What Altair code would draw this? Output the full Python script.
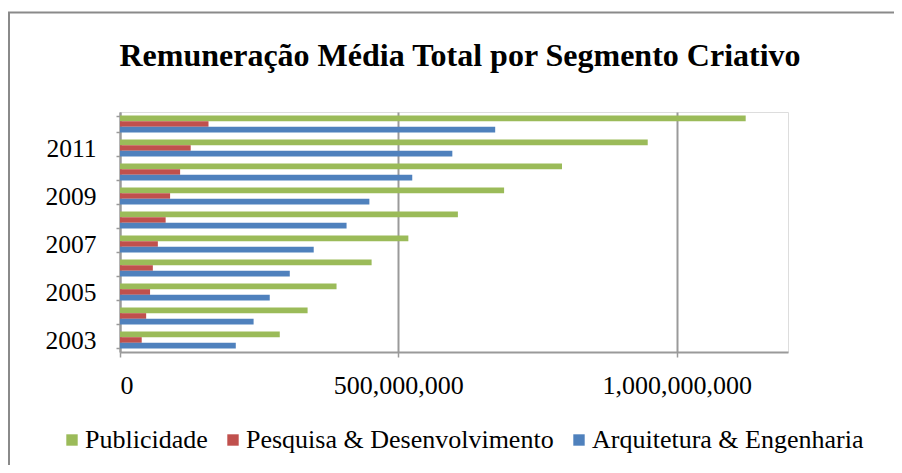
import altair as alt
import pandas as pd

years = [str(y) for y in range(2003, 2013)]
series = ["Publicidade", "Pesquisa & Desenvolvimento", "Arquitetura & Engenharia"]
colors = ["#9BBB59", "#C0504D", "#4F81BD"]

publicidade = [287e6, 337e6, 389e6, 452e6, 518e6, 607e6, 690e6, 794e6, 948e6, 1124e6]
pesquisa = [39e6, 47e6, 54e6, 59e6, 68e6, 82e6, 90e6, 108e6, 127e6, 159e6]
arquitetura = [208e6, 240e6, 269e6, 305e6, 348e6, 407e6, 448e6, 525e6, 597e6, 674e6]

x_ticks = [0, 500000000, 1000000000]

rows = []
for name, vals in zip(series, [publicidade, pesquisa, arquitetura]):
    for y, v in zip(years, vals):
        rows.append({"Ano": y, "Segmento": name, "Valor": v})
df = pd.DataFrame(rows)

FONT = "Liberation Serif"

bars = alt.Chart(df).mark_bar(stroke=None).encode(
    x=alt.X("Valor:Q",
            scale=alt.Scale(domain=[0, 1.2e9], nice=False, zero=True),
            axis=alt.Axis(values=x_ticks, format=",d", title=None,
                          grid=True, gridColor="#9a9a9a", gridWidth=2,
                          domainColor="#9a9a9a", domainWidth=2,
                          tickColor="#9a9a9a", tickWidth=1.5, tickSize=5,
                          labelFont=FONT, labelFontSize=26, labelColor="#000",
                          labelPadding=15)),
    y=alt.Y("Ano:N", sort="descending",
            scale=alt.Scale(paddingInner=0.3, paddingOuter=0.15),
            axis=alt.Axis(title=None, tickBand="extent",
                          labelExpr="(toNumber(datum.value) - 2003) % 2 == 0 ? datum.label : ''",
                          domainColor="#9a9a9a", domainWidth=2,
                          tickColor="#9a9a9a", tickWidth=1.5, tickSize=4,
                          labelFont=FONT, labelFontSize=25.5, labelColor="#000",
                          labelPadding=20)),
    yOffset=alt.YOffset("Segmento:N", sort=series,
                        scale=alt.Scale(paddingInner=0.0)),
    color=alt.Color("Segmento:N", sort=series,
                    scale=alt.Scale(domain=series, range=colors),
                    legend=alt.Legend(orient="none", direction="horizontal",
                                      legendX=-61, legendY=315, title=None,
                                      symbolType="square", symbolSize=130,
                                      symbolStrokeWidth=0, labelLimit=500,
                                      labelFont=FONT, labelFontSize=26,
                                      labelColor="#000", labelOffset=0,
                                      columnPadding=12)),
)

frame_df = pd.DataFrame({"a": [0]})
left_border = alt.Chart(frame_df).mark_rule(color="#8a8a8a", strokeWidth=2).encode(
    x=alt.value(-111), y=alt.value(-99.5), y2=alt.value(420))
top_border = alt.Chart(frame_df).mark_rule(color="#8a8a8a", strokeWidth=2).encode(
    x=alt.value(-112), x2=alt.value(790), y=alt.value(-99.5))

chart = alt.layer(bars, left_border, top_border).properties(
    width=668, height=240,
    padding={"left": 112, "top": 104, "right": 106, "bottom": 113},
    autosize=alt.AutoSizeParams(type="none"),
    title=alt.TitleParams("Remuneração Média Total por Segmento Criativo",
                          font=FONT, fontSize=32, fontWeight="bold",
                          color="#000", anchor="middle", offset=-61, dx=6),
).configure_view(stroke=None).configure(background="white")

chart.save("out.html", embed_options={"renderer": "svg", "actions": False})
